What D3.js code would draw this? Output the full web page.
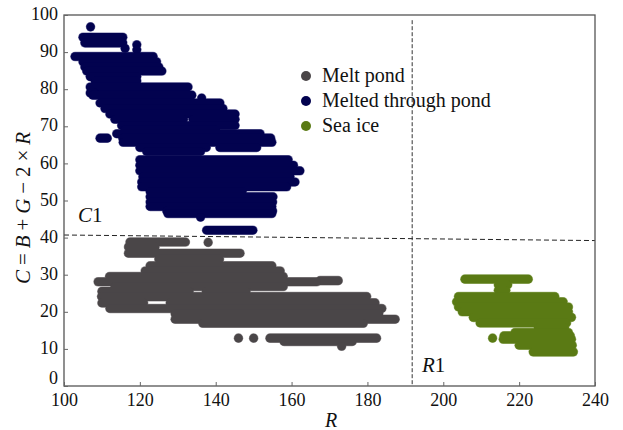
<!DOCTYPE html>
<html>
<head>
<meta charset="utf-8">
<script src="https://cdn.jsdelivr.net/npm/d3@7"></script>
<style>
  html, body { margin: 0; padding: 0; background: #fff; }
  svg text { font-family: "Liberation Serif", "Times New Roman", serif; fill: #111; }
</style>
</head>
<body>
<svg id="chart" width="623" height="430"></svg>
<script>
// rows of points: [C, R from, R to]
const meltPond = [
  [38.8, 117.4, 132], [38.7, 138, 138], [37.5, 117, 124], [35.8, 117, 146.4],
  [34.2, 125, 141], [32.4, 122.7, 154.8], [31, 121.4, 157], [29.5, 112, 157.8],
  [28.4, 167.5, 172.3], [28.1, 109, 166.6], [26.8, 113.4, 157.8],
  [25.5, 110, 133], [25.5, 137.5, 148], [24.1, 109.9, 179.8],
  [22.4, 110, 121], [22.4, 128, 182], [20.9, 112.1, 183.8], [19.5, 129.3, 183],
  [18, 129.3, 187.3], [16.9, 136.6, 178.9],
  [12.9, 146, 146], [12.9, 150, 150], [12.9, 154.3, 182.4], [12, 158, 176],
  [10.7, 173.2, 173.2]
];
const meltedThrough = [
  [96.8, 107, 107], [94, 105, 115.5], [92.5, 105.5, 115.5], [92, 119.2, 119.2],
  [90.6, 119.2, 119.2], [91, 116.1, 116.1], [88.8, 102.9, 123.5], [87.4, 105, 124.4],
  [86, 105.5, 125], [84.9, 106, 125.8], [83.4, 106.9, 119.2], [82.2, 108.2, 119.2],
  [80.6, 106.9, 132.7], [79, 106.9, 108], [78.4, 107.6, 133.7], [77.6, 136.3, 136.3],
  [76.3, 109.5, 141.1], [74.8, 110.8, 141.9], [73.3, 112.1, 145.1], [71.9, 113.4, 131.5],
  [71.9, 134, 145.1], [70.2, 115.2, 145.1], [69, 116, 140], [68, 113.9, 151.7],
  [66.8, 109.5, 111.4], [66.8, 115.5, 154.5], [65.7, 115.6, 154.8], [64.3, 120, 137.5],
  [64.3, 141.1, 150.8], [63.2, 121.8, 136], [61, 120, 159.1], [59.5, 120, 160.5],
  [58, 120, 162.2], [56.4, 120.8, 159.6], [55, 120.5, 160.9], [53.7, 120.5, 158.7],
  [52.4, 122.7, 147], [51, 122.7, 155.1], [49.6, 122.7, 155], [48.4, 122.7, 154.8],
  [47.2, 127.1, 155], [46.5, 127.4, 154.8], [45.5, 136, 136], [42, 137.6, 149.8]
];
const seaIce = [
  [28.8, 205.7, 222.4], [27.3, 214.5, 217], [25.8, 214.5, 216.5], [24.1, 204, 229.4],
  [22.7, 203.5, 231.6], [21.3, 204, 233], [20, 205, 233], [18.5, 207.9, 233.8],
  [17, 209.7, 232.5], [15.7, 225, 232], [14.4, 218.9, 233], [13.5, 216, 233.5],
  [12.9, 213, 213], [12.6, 215.8, 233.8], [11, 220, 234], [9.2, 223.7, 234.3]
];
const seriesNames = ["Melt pond", "Melted through pond", "Sea ice"];
const seriesColors = ["#4a4648", "#02024f", "#5a7a14"];
const rimColors = ["#9a9698", "#7a7aa8", "#a8bc80"];
const xTicks = [100, 120, 140, 160, 180, 200, 220, 240];
const yTicks = [0, 10, 20, 30, 40, 50, 60, 70, 80, 90, 100];
// threshold lines
const c1Line = [[100, 40.7], [240, 39.2]];
const r1Line = [[191.8, 98.6], [191.8, 0]];

const svg = d3.select("#chart");
const x = d3.scaleLinear().domain([100, 240]).range([64, 595]);
const y = d3.scaleLinear().domain([0, 100]).range([386, 15]);
const rad = 4.3;

// points, drawn as runs of overlapping dots
const all = [meltPond, meltedThrough, seaIce];
const g = svg.append("g");
all.forEach((rows, i) => {
  g.selectAll(null).data(rows).enter().append("line")
    .attr("x1", d => x(d[1])).attr("x2", d => x(d[2]) + 0.01)
    .attr("y1", d => y(d[0])).attr("y2", d => y(d[0]))
    .attr("stroke", rimColors[i]).attr("stroke-width", rad * 2 + 1)
    .attr("stroke-linecap", "round");
});
all.forEach((rows, i) => {
  g.selectAll(null).data(rows).enter().append("line")
    .attr("x1", d => x(d[1])).attr("x2", d => x(d[2]) + 0.01)
    .attr("y1", d => y(d[0])).attr("y2", d => y(d[0]))
    .attr("stroke", seriesColors[i]).attr("stroke-width", rad * 2)
    .attr("stroke-linecap", "round");
});

// dashed lines
const ln = d3.line().x(d => x(d[0])).y(d => y(d[1]));
svg.append("path").attr("d", ln(c1Line)).attr("fill", "none")
  .attr("stroke", "#222").attr("stroke-width", 1).attr("stroke-dasharray", "5,3");
svg.append("path").attr("d", ln(r1Line)).attr("fill", "none")
  .attr("stroke", "#333").attr("stroke-width", 1).attr("stroke-dasharray", "4,2");

// frame
svg.append("rect").attr("x", 64).attr("y", 15).attr("width", 531).attr("height", 371)
  .attr("fill", "none").attr("stroke", "#555").attr("stroke-width", 1.3);

// axes
const xAxis = svg.append("g").attr("transform", "translate(0,386)")
  .call(d3.axisBottom(x).tickValues(xTicks).tickSize(-4).tickPadding(7));
const yAxis = svg.append("g").attr("transform", "translate(64,0)")
  .call(d3.axisLeft(y).tickValues(yTicks).tickSize(-4).tickPadding(6));
[xAxis, yAxis].forEach(a => {
  a.select(".domain").remove();
  a.selectAll(".tick line").attr("stroke", "#666");
  a.selectAll(".tick text").attr("font-size", 18).attr("fill", "#111");
});
yAxis.selectAll(".tick text").attr("dy", d => d === 0 ? "-0.12em" : "0.26em");

// axis titles
svg.append("text").attr("x", 331).attr("y", 427).attr("text-anchor", "middle")
  .attr("font-size", 20).attr("font-style", "italic").text("R");
const yt = svg.append("text").attr("transform", "translate(30,208) rotate(-90)")
  .attr("text-anchor", "middle").attr("font-size", 21)
  .attr("textLength", 152).attr("lengthAdjust", "spacing");
[["C", 1], ["=", 0], ["B", 1], ["+", 0], ["G", 1], ["\u22122\u00d7", 0], ["R", 1]]
  .forEach(p => yt.append("tspan").attr("font-style", p[1] ? "italic" : "normal").text(p[0]));

// region labels
const c1 = svg.append("text").attr("x", 78).attr("y", 222).attr("font-size", 21);
c1.append("tspan").attr("font-style", "italic").text("C");
c1.append("tspan").text("1");
const r1 = svg.append("text").attr("x", 422).attr("y", 372).attr("font-size", 21);
r1.append("tspan").attr("font-style", "italic").text("R");
r1.append("tspan").text("1");

// legend
const leg = svg.append("g").selectAll("g").data(seriesNames).enter().append("g")
  .attr("transform", (d, i) => `translate(306,${76 + i * 25})`);
leg.append("circle").attr("r", 5).attr("fill", (d, i) => seriesColors[i]);
leg.append("text").attr("x", 16).attr("y", 6).attr("font-size", 20).text(d => d);
</script>
</body>
</html>
